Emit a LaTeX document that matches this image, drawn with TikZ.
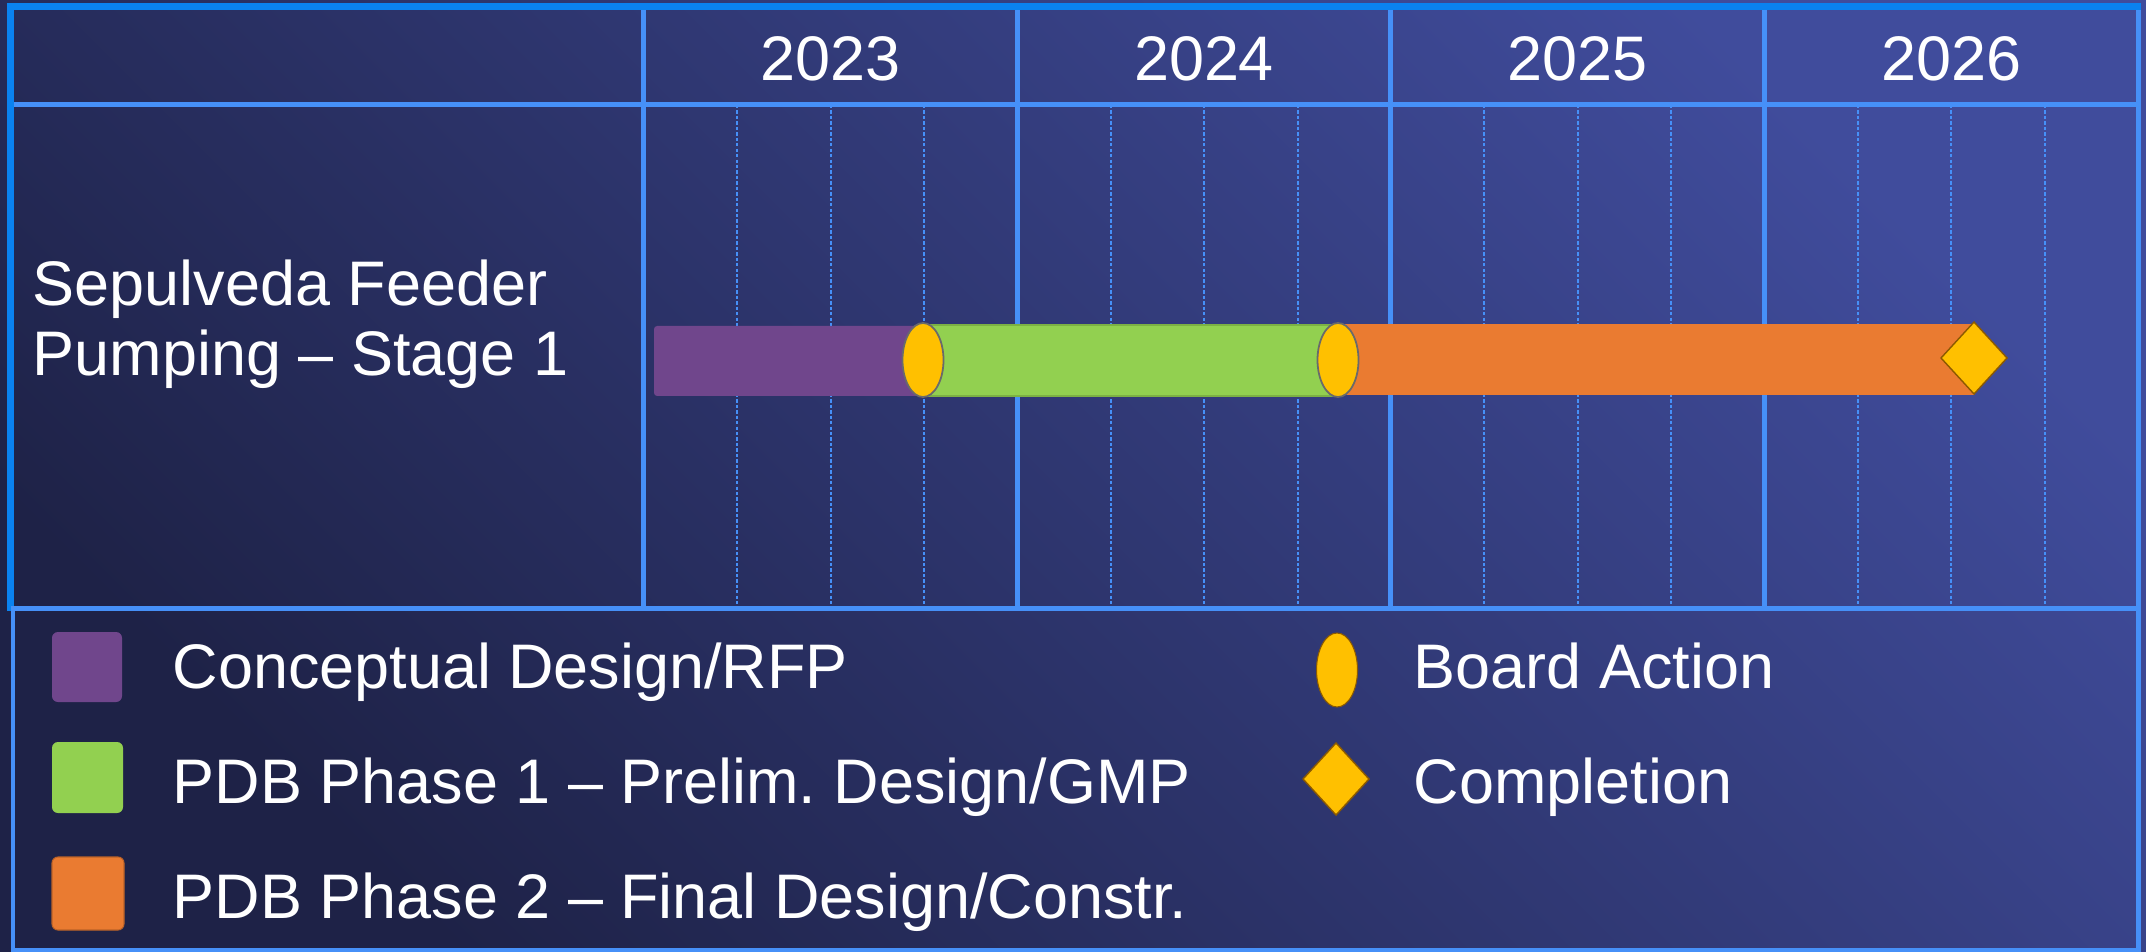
\documentclass[tikz,border=0pt]{standalone}
\usepackage{fontspec}
\setmainfont{Liberation Sans}

\definecolor{bgdark}{HTML}{1E2247}
\definecolor{bglight}{HTML}{404C9C}
\definecolor{gridblue}{HTML}{4690F8}
\definecolor{framblue}{HTML}{0A82F0}
\definecolor{phasepurple}{HTML}{70468C}
\definecolor{phasegreen}{HTML}{92D050}
\definecolor{phaseorange}{HTML}{EA7B31}
\definecolor{msgold}{HTML}{FFC000}
\definecolor{msgray}{HTML}{6A6A6A}
\definecolor{msbrown}{HTML}{8C5A00}

\tikzset{
  gridline/.style={draw=gridblue, line width=1.42pt},
  quarter/.style={draw=gridblue, line width=0.8pt, dash pattern=on 0.95pt off 0.6pt},
  lbl/.style={text=white, inner sep=0pt, font=\fontsize{17.9}{21}\selectfont},
  legbox/.style={rounded corners=1.7pt},
}

\begin{document}
\begin{tikzpicture}[x=0.01cm, y=-0.01cm]  % 1 单位 = 1 像素, y 向下

        \useasboundingbox (0,0) rectangle (2146,952);

        % 背景渐变
        \shade[bottom color=bgdark, top color=bglight, shading angle=-45] (0,0) rectangle (2146,952);

        % 季度虚线
        \draw[quarter] (737,105) -- (737,608) (831,105) -- (831,608) (924,105) -- (924,608); % 2023
        \draw[quarter] (1111,105) -- (1111,608) (1204,105) -- (1204,608) (1298,105) -- (1298,608); % 2024
        \draw[quarter] (1484,105) -- (1484,608) (1578,105) -- (1578,608) (1671,105) -- (1671,608); % 2025
        \draw[quarter] (1858,105) -- (1858,608) (1951,105) -- (1951,608) (2045,105) -- (2045,608); % 2026

        % 表格线
        \draw[gridline] (10,104.5) -- (2138,104.5); % 表头
        \draw[gridline] (643.5,7) -- (643.5,608.5);
        \draw[gridline] (1017,7) -- (1017,608.5);
        \draw[gridline] (1390.5,7) -- (1390.5,608.5);
        \draw[gridline] (1764,7) -- (1764,608.5);
        \draw[gridline] (2138,7) -- (2138,608.5) -- (10,608.5);

        % 外框 (上, 左)
        \draw[draw=framblue, line width=2pt] (7,6.5) -- (2141,6.5);
        \draw[draw=framblue, line width=2pt] (10.5,3) -- (10.5,611);

        % 图例框
        \draw[gridline] (13,608.5) rectangle (2138,950);

        % 年份
        \node[lbl, anchor=base] (y2023) at (830.5,81) {2023};
        \node[lbl, anchor=base] (y2024) at (1204,81) {2024};
        \node[lbl, anchor=base] (y2025) at (1577.5,81) {2025};
        \node[lbl, anchor=base] (y2026) at (1951,81) {2026};

        % 项目名称
        \node[lbl, anchor=base west] (task1) at (32,306) {Sepulveda Feeder};
        \node[lbl, anchor=base west] (task2) at (32,376) {Pumping – Stage 1};

        % 进度条
        \fill[phasepurple, rounded corners=0.9pt] (654,326) rectangle (930,396);
        \filldraw[fill=phasegreen, draw=phasegreen!85!black, line width=0.4pt] (923,325) rectangle (1338,396);
        \fill[phaseorange] (1338,324) rectangle (1974,395);

        % 里程碑
        \filldraw[fill=msgold, draw=msgray, line width=0.5pt] (923,360) ellipse (20.5 and 37);
        \filldraw[fill=msgold, draw=msgray, line width=0.5pt] (1338,360) ellipse (20.5 and 37);
        \filldraw[fill=msgold, draw=msbrown, line width=0.4pt] (1941,358) -- (1974,322) -- (2007,358) -- (1974,394) -- cycle;

        % 图例
        \fill[legbox, phasepurple] (52,632) rectangle (122,702);
        \fill[legbox, phasegreen] (52,742) rectangle (123,813);
        \filldraw[legbox, fill=phaseorange, draw=phaseorange!80!black, line width=0.3pt] (52,857) rectangle (124,930);
        \node[lbl, anchor=base west] (leg1) at (172,688) {Conceptual Design/RFP};
        \node[lbl, anchor=base west] (leg2) at (172,803) {PDB Phase 1 – Prelim.\ Design/GMP};
        \node[lbl, anchor=base west] (leg3) at (172,918) {PDB Phase 2 – Final Design/Constr.};

        \filldraw[fill=msgold, draw=msbrown, line width=0.3pt] (1337,670) ellipse (20.5 and 37);
        \filldraw[fill=msgold, draw=msbrown, line width=0.4pt] (1303,779) -- (1336,743) -- (1369,779) -- (1336,815) -- cycle;
        \node[lbl, anchor=base west] (leg4) at (1413,688) {Board Action};
        \node[lbl, anchor=base west] (leg5) at (1413,803) {Completion};

    \end{tikzpicture}
\end{document}
